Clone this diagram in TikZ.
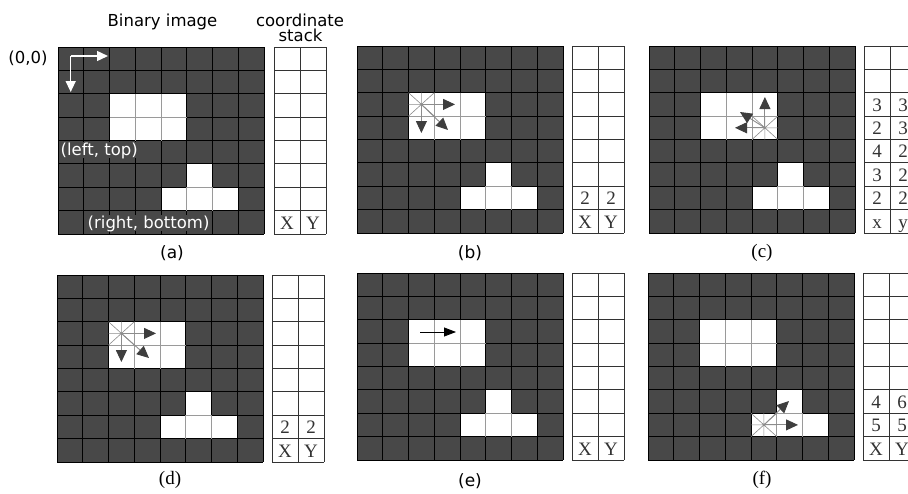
\documentclass[tikz,border=0pt]{standalone}
\usepackage{fontspec}
\setmainfont{Liberation Serif}
\newfontfamily\sansf{DejaVu Sans}
\usetikzlibrary{arrows.meta}
\definecolor{cellgray}{HTML}{484848}
\definecolor{starline}{HTML}{8C8C8C}
\definecolor{arrowgray}{HTML}{3E3E3E}
\definecolor{innergray}{HTML}{9A9A9A}
\tikzset{
  gridline/.style={line width=0.9pt, draw=black},
  innerwhite/.style={line width=0.9pt, draw=innergray},
  stackline/.style={line width=0.8pt, draw=black!80},
  starl/.style={line width=0.6pt, draw=starline},
  probe/.style={line width=0.9pt, draw=starline, -{Triangle[length=12pt,width=11pt,color=arrowgray]}},
  blackprobe/.style={line width=0.8pt, draw=black, -{Triangle[length=12pt,width=9pt,color=black]}},
  wharrow/.style={line width=1.4pt, draw=white, -{Triangle[length=11pt,width=10pt]}},
  sanstxt/.style={font=\sansf\fontsize{16.5}{18}\selectfont, inner sep=0pt},
  celltxt/.style={font=\sansf\fontsize{16.5}{18}\selectfont, text=white, fill=cellgray, inner xsep=1pt, inner ysep=0pt},
  sanslab/.style={font=\sansf\fontsize{17}{19}\selectfont, inner sep=0pt},
  seriflab/.style={font=\fontsize{19}{21}\selectfont, inner sep=0pt},
  stacktxt/.style={font=\fontsize{19}{21}\selectfont, inner sep=0pt, anchor=base, text=black!80},
}
\newcommand\binimg[2]{%
  \begin{scope}[shift={(#1,#2)}, xscale=25.75, yscale=23.375]
    \fill[cellgray] (0,0) rectangle (8,8);
    \fill[white] (2,2) rectangle (5,4) (5,5) rectangle (6,6) (4,6) rectangle (7,7);
    \foreach \k in {0,...,8}{\draw[gridline] (\k,0) -- (\k,8) (0,\k) -- (8,\k);}
    \draw[innerwhite] (3,2) -- (3,4) (4,2) -- (4,4) (2,3) -- (5,3)
                      (5,6) -- (5,7) (6,6) -- (6,7) (5,6) -- (6,6);
  \end{scope}}
\newcommand\stackcol[2]{%
  \begin{scope}[shift={(#1,#2)}, xscale=26, yscale=23.375]
    \fill[white] (0,0) rectangle (2,8);
    \foreach \k in {0,...,8}{\draw[stackline] (0,\k) -- (2,\k);}
    \foreach \k in {0,1,2}{\draw[stackline] (\k,0) -- (\k,8);}
  \end{scope}}
\newcommand\sent[6]{\node[stacktxt] (#1) at ({#2+26*#4+13},{#3+23.375*#5+18.4}) {#6};}
\newcommand\cellstar[2]{%
  \draw[starl] ({#1-12.9},{#2-11.7}) -- ({#1+12.9},{#2+11.7})
               ({#1+12.9},{#2-11.7}) -- ({#1-12.9},{#2+11.7})
               ({#1-12.9},#2) -- ({#1+12.9},#2)
               (#1,{#2-11.7}) -- (#1,{#2+11.7});}
\begin{document}
\begin{tikzpicture}[x=1pt, y=-1pt]
\useasboundingbox (0,0) rectangle (908,493);
\fill[white] (0,0) rectangle (908,493);

% ---------- panel (a)
\binimg{58}{47}
\stackcol{274}{47}
\sent{aX}{274}{47}{0}{7}{X}
\sent{aY}{274}{47}{1}{7}{Y}
\node[sanstxt, anchor=base] (title) at (162.5,26.7) {Binary image};
\node[sanstxt, anchor=base] (coord) at (300,26) {coordinate};
\node[sanstxt, anchor=base] (stk) at (300.5,41.7) {stack};
\node[sanstxt, anchor=base] (origin) at (28,63) {(0,0)};
\node[celltxt, anchor=base west] (lt) at (59.5,155) {(left, top)};
\node[celltxt, anchor=base west] (rb) at (86.5,228) {(right, bottom)};
\coordinate (acorner) at (70.7,56);
\coordinate (aright) at (108,56);
\coordinate (adown) at (70.7,92);
\draw[wharrow] (acorner) -- (aright);
\draw[wharrow] (acorner) -- (adown);
\node[sanslab] (la) at (172,253) {(a)};

% ---------- panel (b)
\binimg{357}{46}
\stackcol{572}{46}
\sent{b1}{572}{46}{0}{6}{2}
\sent{b2}{572}{46}{1}{6}{2}
\sent{bX}{572}{46}{0}{7}{X}
\sent{bY}{572}{46}{1}{7}{Y}
\cellstar{421.4}{104.4}
\coordinate (bc) at (421.4,104.4);
\coordinate (br) at (455,104.4);
\coordinate (bd) at (421.4,133);
\coordinate (bg) at (448,130);
\draw[probe] (bc) -- (br);
\draw[probe] (bc) -- (bd);
\draw[probe] (bc) -- (bg);
\node[sanslab] (lb) at (470,253) {(b)};

% ---------- panel (c)
\binimg{649}{46}
\stackcol{864}{46}
\sent{c1}{864}{46}{0}{2}{3}
\sent{c2}{864}{46}{1}{2}{3}
\sent{c3}{864}{46}{0}{3}{2}
\sent{c4}{864}{46}{1}{3}{3}
\sent{c5}{864}{46}{0}{4}{4}
\sent{c6}{864}{46}{1}{4}{2}
\sent{c7}{864}{46}{0}{5}{3}
\sent{c8}{864}{46}{1}{5}{2}
\sent{c9}{864}{46}{0}{6}{2}
\sent{c10}{864}{46}{1}{6}{2}
\sent{cX}{864}{46}{0}{7}{x}
\sent{cY}{864}{46}{1}{7}{y}
\cellstar{764.9}{127.8}
\coordinate (cc) at (764.9,127.8);
\coordinate (cl) at (735,127.8);
\coordinate (cu) at (764.9,97);
\coordinate (cul) at (740,112);
\draw[probe] (cc) -- (cl);
\draw[probe] (cc) -- (cu);
\draw[probe] (cc) -- (cul);
\node[seriflab] (lc) at (762,253) {(c)};

% ---------- panel (d)
\binimg{57}{275}
\stackcol{272}{275}
\sent{d1}{272}{275}{0}{6}{2}
\sent{d2}{272}{275}{1}{6}{2}
\sent{dX}{272}{275}{0}{7}{X}
\sent{dY}{272}{275}{1}{7}{Y}
\cellstar{121.4}{333.4}
\coordinate (dc) at (121.4,333.4);
\coordinate (dr) at (156,333.4);
\coordinate (dd) at (121.4,362);
\coordinate (dg) at (149,358);
\draw[probe] (dc) -- (dr);
\draw[probe] (dc) -- (dd);
\draw[probe] (dc) -- (dg);
\node[seriflab] (ld) at (170,480) {(d)};

% ---------- panel (e)
\binimg{357}{273}
\stackcol{572}{273}
\sent{eX}{572}{273}{0}{7}{X}
\sent{eY}{572}{273}{1}{7}{Y}
\coordinate (es) at (420,332);
\coordinate (et) at (456,332);
\draw[blackprobe] (es) -- (et);
\node[sanslab] (le) at (470,481) {(e)};

% ---------- panel (f)
\binimg{648}{273}
\stackcol{863}{273}
\sent{f1}{863}{273}{0}{5}{4}
\sent{f2}{863}{273}{1}{5}{6}
\sent{f3}{863}{273}{0}{6}{5}
\sent{f4}{863}{273}{1}{6}{5}
\sent{fX}{863}{273}{0}{7}{X}
\sent{fY}{863}{273}{1}{7}{Y}
\cellstar{763.9}{424.9}
\coordinate (fc) at (763.9,424.9);
\coordinate (fr) at (798,424.9);
\coordinate (fu) at (789,401);
\draw[probe] (fc) -- (fr);
\draw[probe] (fc) -- (fu);
\node[seriflab] (lf) at (762,480) {(f)};
\end{tikzpicture}
\end{document}
